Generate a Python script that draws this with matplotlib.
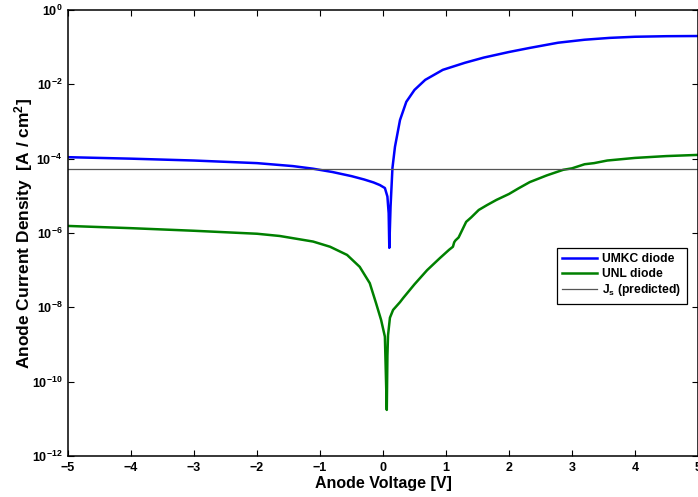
import numpy as np
import matplotlib
matplotlib.use("Agg")
import matplotlib.pyplot as plt
from matplotlib.ticker import FuncFormatter, FixedLocator

plt.rcParams['font.family'] = ['Liberation Sans', 'DejaVu Sans']
plt.rcParams['font.weight'] = 'bold'
plt.rcParams['mathtext.fontset'] = 'custom'
plt.rcParams['mathtext.rm'] = 'Liberation Sans:bold'
plt.rcParams['mathtext.bf'] = 'Liberation Sans:bold'
plt.rcParams['mathtext.it'] = 'Liberation Sans:bold'

# UMKC diode: voltage [V] and log10 of current density [A/cm^2]
umkc_v = [-5.0, -4.0, -3.0, -2.0, -1.43, -1.11, -0.8, -0.5, -0.3, -0.15, -0.05, 0.03, 0.07,
          0.09, 0.10, 0.12, 0.15, 0.19, 0.27, 0.37, 0.50, 0.67, 0.95, 1.3, 1.6, 2.0,
          2.33, 2.78, 3.2, 3.6, 4.0, 4.5, 5.0]
umkc_logj = [-3.96, -4.00, -4.05, -4.12, -4.20, -4.27, -4.36, -4.47, -4.56, -4.64, -4.71, -4.79, -5.02,
             -5.47, -6.40, -5.29, -4.25, -3.68, -2.96, -2.47, -2.15, -1.88, -1.61, -1.42, -1.28, -1.13,
             -1.02, -0.88, -0.80, -0.75, -0.72, -0.705, -0.70]

# UNL diode
unl_v = [-5.0, -4.0, -3.0, -2.0, -1.64, -1.11, -0.84, -0.57, -0.37, -0.21, -0.11, -0.03, 0.03,
         0.06, 0.07, 0.08, 0.11, 0.16, 0.27, 0.32, 0.5, 0.7, 0.9, 1.05, 1.11, 1.13, 1.15, 1.2,
         1.32, 1.4, 1.52, 1.65, 1.8, 2.0, 2.15, 2.33, 2.6, 2.86, 3.0, 3.2, 3.35, 3.56, 4.0,
         4.5, 4.98]
unl_logj = [-5.81, -5.87, -5.94, -6.02, -6.08, -6.23, -6.37, -6.59, -6.91, -7.35, -7.89, -8.34, -8.79,
            -10.76, -9.3, -8.75, -8.28, -8.07, -7.86, -7.75, -7.38, -7.0, -6.68, -6.45, -6.37, -6.25, -6.2, -6.12,
            -5.70, -5.58, -5.38, -5.25, -5.11, -4.95, -4.80, -4.63, -4.45, -4.30, -4.26, -4.15, -4.12, -4.05, -3.98,
            -3.93, -3.90]

js_pred = 5.4e-5

fig = plt.figure(figsize=(6.98, 4.97), dpi=100)
ax = fig.add_axes([68/698, 41/497, 630/698, 446/497])

ax.semilogy(umkc_v, 10**np.array(umkc_logj), color='#0000ff', lw=1.8, label='UMKC diode')
ax.semilogy(unl_v, 10**np.array(unl_logj), color='#008000', lw=1.8, label='UNL diode')
ax.axhline(js_pred, color='#555555', lw=0.9, label='J$_s$ (predicted)')

ax.set_xlim(-5, 5)
ax.set_ylim(1e-12, 1e0)
ax.xaxis.set_major_locator(FixedLocator(np.arange(-5, 6, 1)))
ax.yaxis.set_major_locator(FixedLocator([10.0**k for k in range(-12, 1, 2)]))
ax.yaxis.set_minor_locator(FixedLocator([]))
ax.xaxis.set_major_formatter(FuncFormatter(lambda v, p: f"{int(v)}".replace('-', '\u2212')))
ax.yaxis.set_major_formatter(FuncFormatter(lambda v, p: r"$\mathbf{10^{%d}}$" % round(np.log10(v))))
ax.tick_params(direction='in', length=4, width=0.8, top=True, right=True, labelsize=9, pad=4)
for lbl in ax.get_xticklabels():
    lbl.set_fontweight('bold')
for s in ax.spines.values():
    s.set_linewidth(1.1)

ax.set_xlabel('Anode Voltage [V]', fontsize=11.5, fontweight='bold', labelpad=2)
ax.set_ylabel(r'Anode Current Density  [A / cm$^2$]', fontsize=12.5, fontweight='bold', labelpad=-2)

leg = ax.legend(loc='upper left', bbox_to_anchor=(0.766, 0.48), fancybox=False, edgecolor='black',
                framealpha=1, prop={'weight': 'bold', 'size': 8.7}, handlelength=2.9,
                borderpad=0.45, labelspacing=0.2, handletextpad=0.4)
leg.get_frame().set_linewidth(0.9)

fig.savefig('out.png', dpi=100)
